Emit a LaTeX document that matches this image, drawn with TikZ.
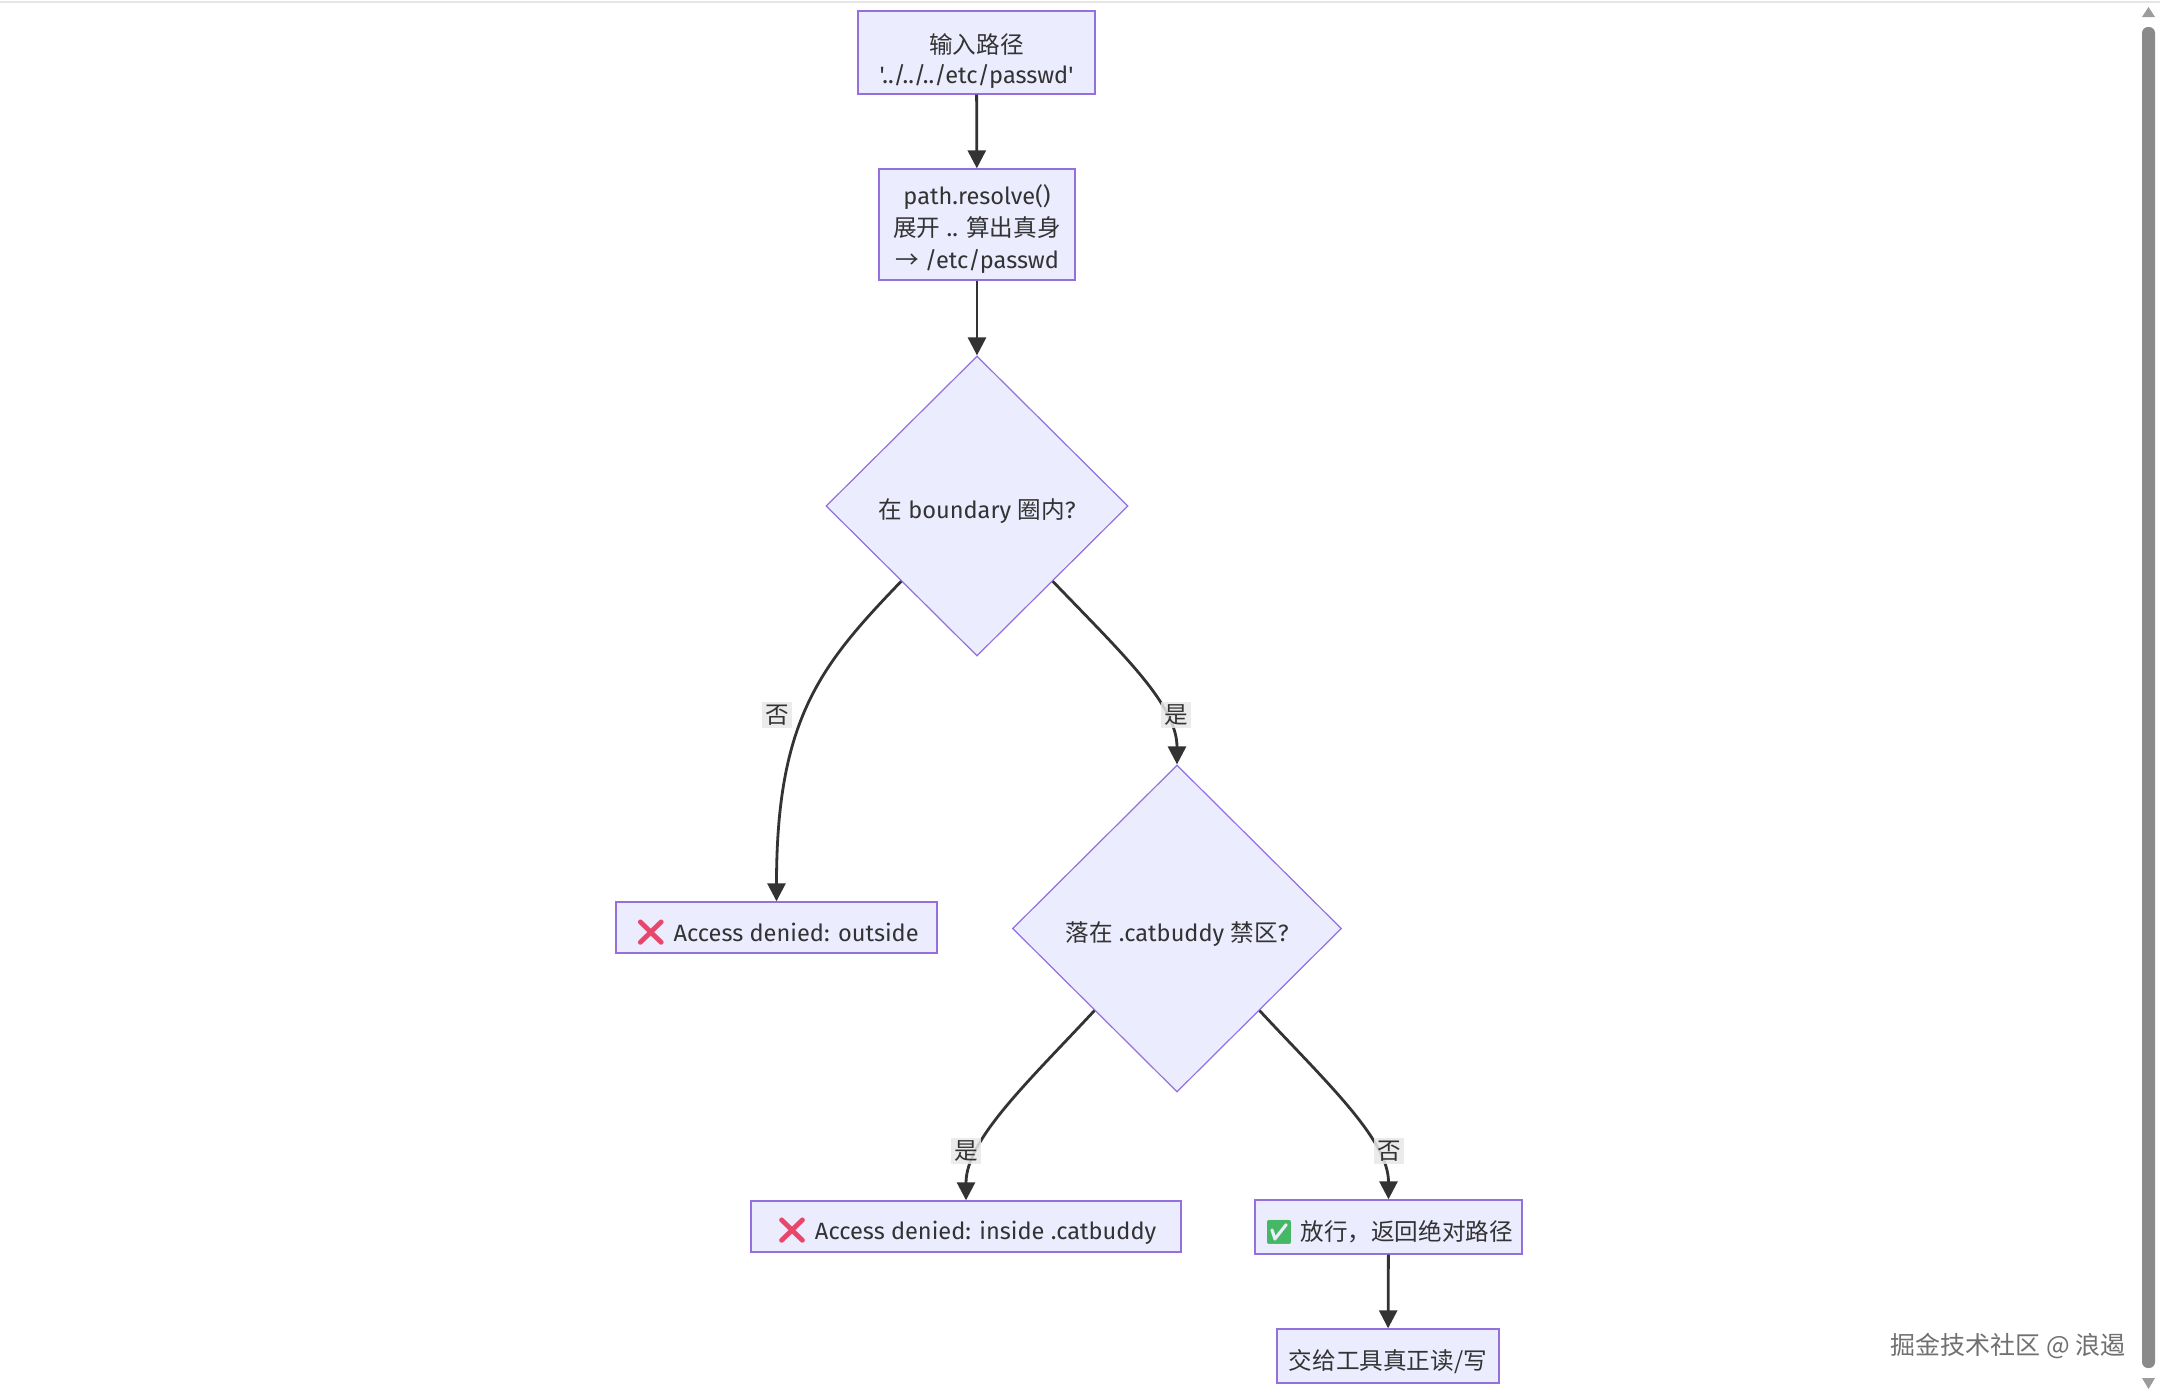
\documentclass[tikz,border=0pt]{standalone}
\usepackage{fontspec}
\newfontfamily\latin{Fira Sans}
\newfontfamily\cjk{Noto Sans CJK SC}
\newfontfamily\emoji{Noto Emoji}
\usetikzlibrary{shapes.geometric,arrows.meta}
\definecolor{nodefill}{HTML}{ECECFF}
\definecolor{nodeline}{HTML}{9370DB}
\definecolor{edgecol}{HTML}{333333}
\definecolor{txt}{HTML}{333333}
\definecolor{lblbg}{HTML}{E8E8E8}
\definecolor{xred}{HTML}{E8466A}
\definecolor{okgreen}{HTML}{45B865}
\definecolor{wmgray}{HTML}{707070}
\definecolor{bargray}{HTML}{8A8A8A}
\definecolor{topline}{HTML}{E6E6E6}
\begin{document}
\begin{tikzpicture}[x=0.5pt,y=-0.5pt,
  font=\latin\fontsize{11.8pt}{16pt}\selectfont, text=txt,
  box/.style={draw=nodeline, fill=nodefill, line width=0.7pt, inner sep=0pt, align=center},
  onebox/.style={box, execute at begin node={\rule{0pt}{15.5pt}}},
  decision/.style={diamond, draw=nodeline, fill=nodefill, line width=0.6pt, inner sep=0pt, aspect=1,
    execute at begin node={\rule{0pt}{15.5pt}}},
  flow/.style={draw=edgecol, line width=1.4pt, -{Triangle[length=9pt,width=9pt]}},
  elabel/.style={fill=lblbg, fill opacity=0.85, text opacity=1, inner sep=1.5pt, font=\cjk\fontsize{11.8pt}{14pt}\selectfont},
  ]
\useasboundingbox (0,0) rectangle (2160,1394);
\fill[white] (0,0) rectangle (2160,1394);
\draw[topline, line width=1pt] (0,1.5) -- (2160,1.5);

% nodes
\node[box, font=\latin\fontsize{11.8pt}{15pt}\selectfont,
  minimum width=118.5pt, minimum height=41.5pt] (input) at (976.5,52.5)
  {\rule{0pt}{19pt}{\cjk 输入路径}\\'../../../etc/passwd'};
\node[box, minimum width=98pt, minimum height=55.5pt] (resolve) at (977,224.5)
  {\rule{0pt}{15pt}path.resolve()\\{\cjk 展开} .. {\cjk 算出真身}\\{\cjk →} /etc/passwd};
\node[decision, minimum width=151pt, minimum height=150pt] (d1) at (977,506)
  {{\cjk 在} boundary {\cjk 圈内}?};
\node[decision, minimum width=164.5pt, minimum height=163.5pt] (d2) at (1177,928.5)
  {{\cjk 落在} .catbuddy {\cjk 禁区}?};
\node[onebox, minimum width=160.5pt, minimum height=25.5pt] (outside) at (776.5,927.5)
  {{\emoji\fontsize{13pt}{14pt}\selectfont\color{xred}❌}\ Access denied: outside};
\node[onebox, minimum width=215pt, minimum height=25.5pt] (inside) at (966,1226.5)
  {{\emoji\fontsize{13pt}{14pt}\selectfont\color{xred}❌}\ Access denied: inside .catbuddy};
\node[onebox, minimum width=133.5pt, minimum height=27pt] (allow) at (1388.5,1227)
  {{\emoji\color{okgreen}✅}\ {\cjk 放行，返回绝对路径}};
\node[onebox, minimum width=111pt, minimum height=27pt] (handoff) at (1388,1356)
  {\cjk 交给工具真正读/写};

% edges
\draw[flow] (input) -- (resolve);
\draw[flow] (resolve) -- (d1);
\draw[flow] (d1.south west) .. controls +(-81,84) and +(0,-182) .. (outside.north);
\draw[flow] (d1.south east) .. controls +(68,71) and +(0,-60) .. (d2.north);
\draw[flow] (d2.south west) .. controls +(-65,70) and +(0,-61) .. (inside.north);
\draw[flow] (d2.south east) .. controls +(65,70) and +(0,-60) .. (allow.north);
\draw[flow] (allow) -- (handoff);

% edge labels
\node[elabel] (l1) at (777,715) {否};
\node[elabel] (l2) at (1176,715) {是};
\node[elabel] (l3) at (966,1151) {是};
\node[elabel] (l4) at (1389,1151) {否};

% watermark
\node[text=white, font=\cjk\fontsize{12.5pt}{14pt}\selectfont] (wmshadow) at (2009.5,1347.5) {掘金技术社区 @ 浪遏};
\node[text=wmgray, font=\cjk\fontsize{12.5pt}{14pt}\selectfont] (wm) at (2008,1346) {掘金技术社区 @ 浪遏};

% scrollbar
\fill[bargray, rounded corners=3pt] (2142,27) rectangle (2155,1368);
\fill[bargray!85] (2142,17) -- (2155,17) -- (2148.5,7) -- cycle;
\fill[bargray!85] (2142,1378) -- (2155,1378) -- (2148.5,1389) -- cycle;
\end{tikzpicture}
\end{document}
